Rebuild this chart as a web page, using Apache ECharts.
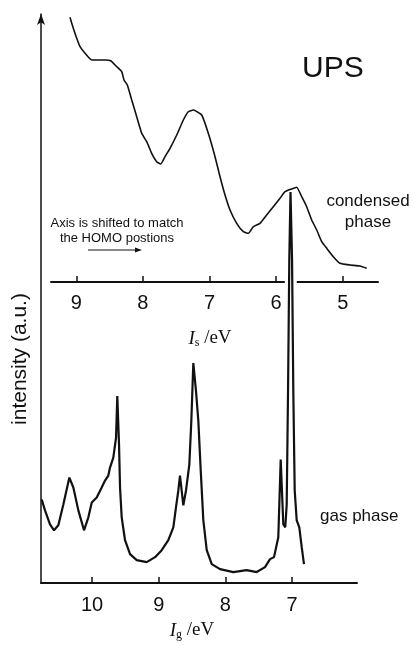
<!DOCTYPE html>
<html>
<head>
<meta charset="utf-8">
<script src="https://cdn.jsdelivr.net/npm/echarts@6/dist/echarts.min.js"></script>
<style>
  html, body { margin: 0; background: #fff; }
  #chart { width: 414px; height: 646px; }
</style>
</head>
<body>
<div id="chart"></div>
<script>
// condensed phase spectrum (I_s axis, eV) - intensity in a.u.
const condensedE = [9.095, 9.045, 8.994, 8.944, 8.869, 8.769, 8.670, 8.569, 8.483, 8.393, 8.318, 8.284,
  8.234, 8.168, 8.093, 8.018, 7.943, 7.868, 7.793, 7.733, 7.668, 7.593, 7.492, 7.393, 7.318, 7.243,
  7.117, 7.018, 6.917, 6.842, 6.767, 6.692, 6.592, 6.492, 6.417, 6.342, 6.242, 6.141, 6.042, 5.941,
  5.866, 5.766, 5.691, 5.616, 5.541, 5.466, 5.390, 5.315, 5.240, 5.141, 5.041, 4.890, 4.740, 4.640];
const condensedI = [264.7, 253.7, 243.7, 235.3, 228.7, 222, 222, 222, 221.3, 215.3, 210.3, 202,
  197, 182, 165.3, 148.7, 140.3, 128.7, 120.3, 118, 125.3, 133.7, 147, 162, 170.3, 172,
  167, 148.7, 125.3, 105.3, 87, 72, 58.7, 50.3, 48.7, 55.3, 58.7, 67, 75.3, 83.7,
  90.3, 93, 94.7, 85.3, 75.3, 62, 52, 40.3, 33.7, 25.3, 18.7, 17, 16, 13.7];

// gas phase spectrum (I_g axis, eV)
const gasE = [10.754, 10.705, 10.630, 10.570, 10.505, 10.430, 10.340, 10.280, 10.205, 10.120, 10.055,
  10.004, 9.930, 9.855, 9.805, 9.756, 9.730, 9.681, 9.640, 9.621, 9.595, 9.580, 9.555, 9.505, 9.430,
  9.330, 9.180, 9.055, 8.955, 8.856, 8.781, 8.741, 8.706, 8.681, 8.631, 8.591, 8.541, 8.511, 8.481,
  8.441, 8.406, 8.370, 8.331, 8.280, 8.205, 8.081, 7.882, 7.681, 7.531, 7.406, 7.331, 7.271, 7.207,
  7.171, 7.132, 7.102, 7.081, 7.061, 7.042, 7.024, 7.001, 6.982, 6.961, 6.931, 6.892, 6.856, 6.822];
const gasI = [84, 73, 59, 53, 58, 79, 106, 96, 73, 53, 66,
  81, 86, 96, 103, 108, 116, 126, 146, 188, 139, 96, 66, 43, 29,
  23, 21, 26, 33, 43, 56, 76, 93, 108, 78, 93, 119, 163, 221,
  193, 163, 113, 63, 33, 19, 14, 11, 13, 11, 16, 24, 26, 46,
  124, 59, 56, 79, 193, 326, 393, 326, 193, 93, 63, 56, 36, 19];

const condensedTicks = [5, 6, 7, 8, 9];
const gasTicks = [7, 8, 9, 10];

const sans = 'Liberation Sans, Arial, sans-serif';
const serif = 'Liberation Serif, Times New Roman, serif';

const chart = echarts.init(document.getElementById('chart'));

const nameRich = {
  i: { fontFamily: serif, fontStyle: 'italic', fontSize: 19, color: '#111' },
  s: { fontFamily: serif, fontSize: 12, color: '#111', padding: [9, 0, 0, 0] },
  u: { fontFamily: serif, fontSize: 19, color: '#111' }
};

function xAxisBase(gridIndex, min, max, ticks, margin, gap, pad) {
  return {
    type: 'value',
    gridIndex: gridIndex,
    inverse: true,
    min: min,
    max: max,
    axisLine: { show: true, onZero: false, lineStyle: { color: '#111', width: 2 } },
    axisTick: { inside: true, length: 6, customValues: ticks, lineStyle: { color: '#111', width: 1.5 } },
    axisLabel: { customValues: ticks, margin: margin, fontSize: 20, fontFamily: sans, color: '#111' },
    splitLine: { show: false },
    nameLocation: 'middle',
    nameGap: gap,
    nameTextStyle: { rich: nameRich, padding: pad }
  };
}

const option = {
  animation: false,
  backgroundColor: '#fff',
  grid: [
    { left: 41, right: 57, top: 14, bottom: 60 },   // gas phase
    { left: 51, right: 36, top: 14, bottom: 364 }   // condensed phase
  ],
  xAxis: [
    Object.assign(xAxisBase(0, 6.027, 10.765, gasTicks, 12, 37, [0, 14, 0, 0]), { name: '{i|I}{s|g}{u| /eV}' }),
    Object.assign(xAxisBase(1, 4.47, 9.38, condensedTicks, 11, 46, [0, 9, 0, 0]), { name: '{i|I}{s|s}{u| /eV}' })
  ],
  yAxis: [
    {
      type: 'value', gridIndex: 0, min: 0, max: 572,
      axisLine: { show: true, symbol: ['none', 'arrow'], symbolSize: [6, 11], lineStyle: { color: '#111', width: 1.5 } },
      axisTick: { show: false }, axisLabel: { show: false }, splitLine: { show: false }
    },
    {
      type: 'value', gridIndex: 1, min: 0, max: 268, show: false
    }
  ],
  series: [
    {
      name: 'gas phase', type: 'line', xAxisIndex: 0, yAxisIndex: 0,
      data: gasE.map((e, i) => [e, gasI[i]]),
      showSymbol: false, lineStyle: { color: '#111', width: 2.2 }, z: 3
    },
    {
      name: 'condensed phase', type: 'line', xAxisIndex: 1, yAxisIndex: 1,
      data: condensedE.map((e, i) => [e, condensedI[i]]),
      showSymbol: false, smooth: 0.15, lineStyle: { color: '#111', width: 1.6 }
    }
  ],
  graphic: [
    { type: 'text', x: 20, y: 359, rotation: Math.PI / 2,
      style: { text: 'intensity (a.u.)', fontSize: 21, fontFamily: sans, fill: '#111', align: 'center', verticalAlign: 'middle' } },
    { type: 'text', x: 302, y: 69,
      style: { text: 'UPS', fontSize: 30, fontFamily: sans, fill: '#111', align: 'left', verticalAlign: 'middle' } },
    { type: 'text', x: 368, y: 212,
      style: { text: 'condensed\nphase', fontSize: 17, lineHeight: 21, fontFamily: sans, fill: '#111', align: 'center', verticalAlign: 'middle' } },
    { type: 'text', x: 320, y: 516,
      style: { text: 'gas phase', fontSize: 17, fontFamily: sans, fill: '#111', align: 'left', verticalAlign: 'middle' } },
    { type: 'text', x: 117, y: 231,
      style: { text: 'Axis is shifted to match\nthe HOMO postions', fontSize: 13, lineHeight: 15, fontFamily: sans, fill: '#111', align: 'center', verticalAlign: 'middle' } },
    { type: 'line', shape: { x1: 88, y1: 250, x2: 137, y2: 250 }, style: { stroke: '#111', lineWidth: 1.2 } },
    { type: 'polygon', shape: { points: [[142, 250], [135, 247.5], [135, 252.5]] }, style: { fill: '#111' } }
  ]
};

chart.setOption(option);

// gap in the condensed axis where the gas-phase HOMO peak passes through
const peakX = chart.convertToPixel({ xAxisIndex: 0 }, 7.02);
const axisY = chart.convertToPixel({ yAxisIndex: 1 }, 0);
chart.setOption({
  graphic: [{ id: 'gap', type: 'rect', z: 1, shape: { x: peakX - 6, y: axisY - 3, width: 12, height: 6 }, style: { fill: '#fff' } }]
});
</script>
</body>
</html>
